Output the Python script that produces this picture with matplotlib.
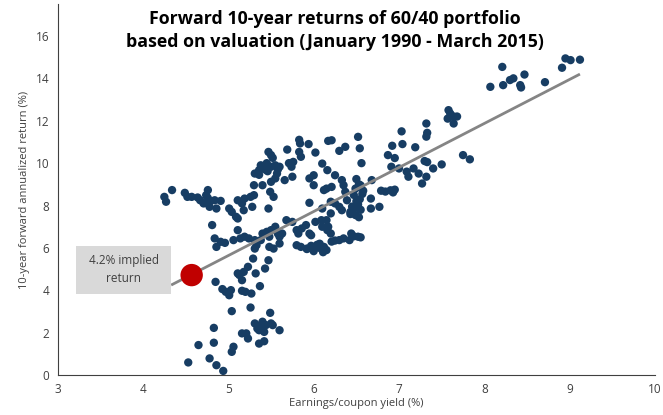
import matplotlib
matplotlib.use("Agg")
import matplotlib.pyplot as plt
from matplotlib.patches import Rectangle

# Scatter data (earnings/coupon yield %, 10y fwd return %)
yield_pct = [
    8.07, 8.21, 8.22, 8.30, 8.34, 8.42, 8.43, 8.47, 8.71, 8.91, 8.95, 9.01, 9.12,
    7.58, 7.60, 7.57, 7.64, 7.68, 7.64, 7.75, 7.83,
    7.32, 7.33, 7.32, 7.03, 7.04, 6.92, 7.19, 6.87, 6.95, 6.91, 7.00, 7.09, 7.11,
    7.17, 7.23, 7.30, 7.33, 7.40, 7.50, 7.27, 7.32,
    6.79, 6.84, 6.90, 6.93, 6.95, 6.67, 6.77, 6.67,
    6.50, 6.53, 6.49, 6.47, 6.50, 6.45, 6.43, 6.49, 6.55, 6.53, 6.43,
    6.47, 6.52, 6.54, 6.57, 6.58, 6.55,
    6.52, 6.54, 6.56, 6.68, 6.37, 6.30, 6.21, 6.17,
    6.25, 6.33, 6.35, 6.37, 6.39, 6.30, 6.33, 6.25, 6.20, 6.15, 6.20, 6.17, 6.20,
    6.30, 6.35, 6.44, 6.52, 6.42, 6.47, 6.55,
    5.92, 6.00, 6.07, 6.12, 6.15, 6.07, 5.97, 6.25, 6.21, 6.04, 6.11,
    6.02, 6.10, 6.16, 5.95, 6.00, 6.00, 6.12, 6.15, 6.21, 5.95, 6.10, 6.09, 6.02,
    6.10, 6.16,
    5.94, 5.83, 5.84, 5.83, 5.85, 5.69, 5.74, 5.66, 5.75, 5.71, 5.76,
    5.68, 5.75, 5.80, 5.82, 5.86, 5.91, 5.95, 5.97, 5.80, 5.85, 5.92,
    5.58, 5.60, 5.63, 5.55, 5.50, 5.60, 5.53,
    5.47, 5.50, 5.52, 5.45, 5.38, 5.36, 5.31, 5.36, 5.43, 5.50, 5.55, 5.60, 5.57,
    5.55, 5.50, 5.40, 5.30, 5.49, 5.53, 5.41, 5.46, 5.58,
    5.11, 5.16, 5.19, 5.26, 5.30, 5.18, 5.28, 5.01, 5.04, 5.09, 5.11, 5.47,
    4.25, 4.27, 4.34, 4.49, 4.52, 4.57, 4.64, 4.67, 4.76, 4.74, 4.71, 4.78, 4.84,
    4.91, 4.86, 4.78, 4.76,
    4.84, 4.86, 4.91, 4.96, 4.81, 5.06, 5.11, 5.14, 5.19, 5.24, 5.31, 5.33, 5.38,
    5.40, 5.45, 5.48, 5.31, 5.48,
    5.29, 5.23, 5.18, 5.13, 5.11, 5.16, 5.32, 5.43, 5.47, 5.37, 4.85, 4.93, 4.97,
    5.03, 5.01, 5.16, 5.20, 5.27,
    5.04, 5.26, 5.49, 5.31, 5.34, 5.38, 5.40, 5.44, 5.50, 5.52, 5.60, 5.42, 5.36,
    5.16, 5.21, 5.23, 4.83, 5.36, 5.42, 4.83, 4.65, 5.06, 5.04, 4.78, 4.86, 4.53,
    4.94,
]
fwd_return = [
    13.60, 14.54, 13.68, 13.92, 14.00, 13.68, 13.57, 14.18, 13.82, 14.50, 14.94, 14.86, 14.88,
    12.50, 12.34, 12.10, 12.20, 12.20, 11.87, 10.38, 10.18,
    11.87, 11.43, 11.25, 11.50, 10.90, 10.82, 10.75, 10.38, 10.24, 9.83, 9.75, 9.60, 9.36,
    9.75, 9.51, 10.10, 10.05, 9.75, 9.94, 9.04, 9.36,
    8.70, 8.66, 8.72, 8.62, 8.75, 8.33, 7.94, 7.86,
    9.25, 9.00, 8.80, 8.50, 8.20, 7.95, 7.70, 7.55, 7.80, 7.45, 7.60,
    7.85, 8.05, 8.30, 8.55, 8.70, 8.95,
    11.24, 10.70, 10.00, 9.20, 10.77, 10.58, 11.08, 11.05,
    9.43, 9.20, 8.96, 8.65, 8.25, 7.94, 7.78, 8.10, 8.18, 7.31, 7.63, 7.00, 6.68,
    6.37, 6.45, 6.68, 6.53, 6.37, 6.55, 6.50,
    5.95, 5.85, 6.00, 6.05, 5.90, 6.20, 6.10, 6.35, 6.30, 6.15, 5.80,
    10.50, 9.98, 9.67, 9.28, 9.43, 8.96, 8.73, 8.80, 8.88, 8.13, 7.86, 7.31, 7.23,
    7.00, 6.84,
    10.90, 11.10, 10.93, 10.53, 10.30, 10.64, 9.83, 9.20, 9.36, 10.00, 10.06,
    7.31, 7.23, 6.84, 6.68, 6.92, 7.08, 6.68, 6.60, 6.13, 6.05, 5.97,
    6.68, 6.53, 6.68, 7.00, 6.84, 6.21, 5.97,
    10.53, 10.38, 10.25, 10.00, 9.90, 9.67, 9.51, 9.45, 9.70, 9.83, 9.90, 9.83, 9.51,
    9.28, 9.12, 8.96, 8.96, 8.65, 8.41, 9.78, 9.62, 9.70,
    8.25, 8.10, 8.33, 8.41, 8.49, 7.78, 7.94, 7.86, 7.70, 7.47, 7.39, 7.86,
    8.41, 8.18, 8.73, 8.60, 8.41, 8.41, 8.38, 8.25, 8.73, 8.49, 8.10, 7.94, 8.25,
    8.22, 7.86, 8.18, 8.35,
    6.45, 6.05, 6.29, 6.24, 7.08, 6.37, 6.84, 6.45, 6.53, 6.45, 6.37, 6.13, 6.37,
    6.68, 6.76, 6.53, 5.97, 6.05,
    5.50, 5.11, 4.87, 4.72, 4.80, 4.48, 4.80, 5.03, 5.42, 4.20, 4.40, 4.06, 3.93,
    4.01, 3.77, 3.98, 3.93, 3.85,
    3.02, 3.19, 2.94, 2.44, 2.20, 2.36, 2.52, 2.36, 2.44, 2.36, 2.12, 2.04, 2.12,
    1.97, 1.97, 1.73, 2.23, 1.49, 1.60, 1.53, 1.42, 1.34, 1.10, 0.79, 0.47, 0.60,
    0.20,
]

# Regression line end points and current valuation marker
trend_x = [4.33, 9.12]
trend_y = [4.25, 14.20]
current_x = [4.57]
current_y = [4.72]
label_text = "4.2% implied\nreturn"

fig = plt.figure(figsize=(6.63, 4.15), dpi=100)
ax = fig.add_axes([0.087, 0.096, 0.901, 0.894])

ax.scatter(yield_pct, fwd_return, s=36, color="#173d63", edgecolors="none", zorder=2)
ax.plot(trend_x, trend_y, color="#858585", lw=2, zorder=3, solid_capstyle="butt")
ax.scatter(current_x, current_y, s=260, color="#c00000", edgecolors="none", zorder=4)

# grey label box on the left of the red dot
ax.add_patch(Rectangle((3.22, 3.85), 1.11, 2.23, facecolor="#d9d9d9",
                       edgecolor="none", zorder=3))
ax.text(3.775, 4.97, label_text, ha="center", va="center", fontsize=8.5,
        color="#404040", family="Open Sans", linespacing=1.5, zorder=4)

ax.set_xlim(3, 10)
ax.set_ylim(0, 17.5)
ax.set_xticks(range(3, 11))
ax.set_yticks(range(0, 17, 2))
ax.tick_params(length=0, labelsize=8.5, labelcolor="#404040", pad=6)
for lbl in ax.get_xticklabels() + ax.get_yticklabels():
    lbl.set_family("Open Sans")

for side in ["top", "right"]:
    ax.spines[side].set_visible(False)
ax.spines["left"].set_color("#404040")
ax.spines["bottom"].set_color("#404040")

ax.set_xlabel("Earnings/coupon yield (%)", fontsize=8, color="#404040",
              family="Open Sans", labelpad=1)
ax.set_ylabel("10-year forward annualized return (%)", fontsize=8,
              color="#404040", family="Open Sans", labelpad=4)

fig.text(0.505, 0.975, "Forward 10-year returns of 60/40 portfolio\nbased on valuation (January 1990 - March 2015)",
         ha="center", va="top", fontsize=12.8, fontweight="bold",
         family="Open Sans", linespacing=1.35)

fig.savefig("out.png", dpi=100)
